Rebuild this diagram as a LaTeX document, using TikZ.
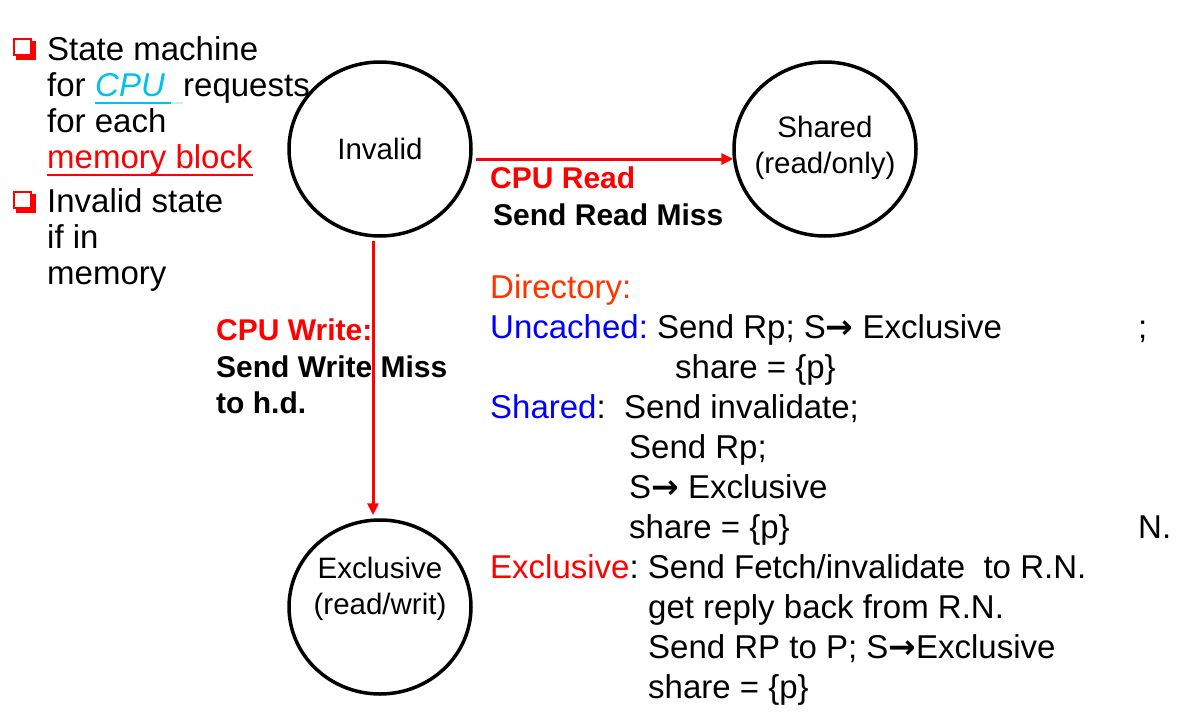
\documentclass[tikz,border=0pt]{standalone}
\usepackage{fontspec}
\setmainfont{Liberation Sans}
\newfontfamily\arr{DejaVu Sans}
\usetikzlibrary{shapes.geometric,arrows.meta,calc}
\definecolor{dirc}{RGB}{255,51,0}
\definecolor{cpuc}{RGB}{0,192,240}
\newcommand{\rarr}{{\arr\bfseries →}}
\begin{document}
\frenchspacing
\begin{tikzpicture}[x=1pt,y=-1pt,
  state/.style={ellipse, draw, line width=3.5pt, minimum width=182pt, minimum height=174pt,
    inner sep=0pt, align=center, font=\fontsize{29.5}{36}\selectfont},
  stext/.style={font=\fontsize{29.5}{36}\selectfont, align=center},
  txt/.style={anchor=base west, inner sep=0pt, font=\fontsize{33}{40}\selectfont},
  lbl/.style={anchor=base west, inner sep=0pt, font=\fontsize{30}{37}\bfseries\selectfont},
  uline/.style={line width=2pt},
  trans/.style={draw=red, line width=3pt, -{Triangle[length=12pt,width=11pt]}, red}]
\useasboundingbox (0,0) rectangle (1200,712);

% bullets
\fill[red] (16,41) rectangle (36,60);
\fill[white] (13,38) rectangle (32,56);
\draw[red, line width=1.8pt] (13.9,38.9) rectangle (31.1,55.1);
\fill[red] (16,194) rectangle (36,213);
\fill[white] (13,191) rectangle (32,209);
\draw[red, line width=1.8pt] (13.9,191.9) rectangle (31.1,208.1);

% left text
\node[txt] (l1) at (47,60) {State machine};
\node[txt] (l2) at (47,96) {for};
\node[txt, text=cpuc] (cpu) at (95,96) {\itshape CPU};
\node[txt] (req) at (183,96) {requests};
\node[txt] (l3) at (47,132) {for each};
\node[txt, text=red] (l4) at (47,168) {memory block};
\node[txt] (l5) at (47,212) {Invalid state};
\node[txt] (l6) at (47,248) {if in};
\node[txt] (l7) at (47,284) {memory};
\draw[uline, cpuc] ($(cpu.base west)+(0,7)$) -- ($(cpu.base east)+(6,7)$);
\draw[uline, cpuc!25] ($(cpu.base east)+(6,7)$) -- ($(req.base west)+(0,7)$);
\draw[uline, red] ($(l4.base west)+(0,7)$) -- ($(l4.base east)+(0,7)$);

% states
\node[state] (inv) at (380,149) {Invalid};
\node[state, label={[stext, yshift=1pt]center:Shared\\(read/only)}] (sh) at (825,149) {};
\node[state, label={[stext, yshift=18pt]center:Exclusive\\(read/writ)}] (ex) at (380,607) {};

% transitions
\draw[trans] ($(inv.east)+(3,10)$) -- ($(sh.west)+(1,10)$);
\draw[trans] ($(inv.south)+(-7,3)$) -- ($(ex.north)+(-7,-3)$);

% transition labels
\node[lbl, text=red] (cr) at (490,188) {CPU Read};
\node[lbl] (srm) at (493,225) {Send Read Miss};
\node[lbl, text=red] (cw) at (216,340) {CPU Write:};
\node[lbl] (swm) at (216,377) {Send Write Miss};
\node[lbl] (thd) at (216,413) {to h.d.};

% directory text
\node[txt] (d0) at (490,298) {{\color{dirc}Directory:}};
\node[txt] (d1) at (490,338) {{\color{blue}Uncached:} Send Rp; S\rarr{} Exclusive};
\node[txt] (d1b) at (1138,338) {;};
\node[txt] (d2) at (675,378) {share = \{p\}};
\node[txt] (d3) at (490,418) {{\color{blue}Shared}:\ \ Send invalidate;};
\node[txt] (d4) at (629,458) {Send Rp;};
\node[txt] (d5) at (629,498) {S\rarr{} Exclusive};
\node[txt] (d6) at (629,538) {share = \{p\}};
\node[txt] (d6b) at (1138,538) {N.};
\node[txt] (d7) at (490,578) {{\color{red}Exclusive}: Send Fetch/invalidate\ \ to R.N.};
\node[txt] (d8) at (648,618) {get reply back from R.N.};
\node[txt] (d9) at (648,658) {Send RP to P; S\rarr{}Exclusive};
\node[txt] (d10) at (648,698) {share = \{p\}};
\end{tikzpicture}
\end{document}
